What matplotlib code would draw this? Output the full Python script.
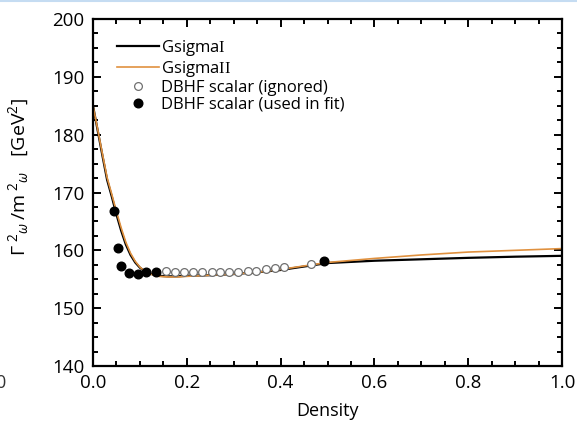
import numpy as np
import matplotlib
matplotlib.use('Agg')
import matplotlib.pyplot as plt
from matplotlib.ticker import MultipleLocator
from matplotlib.lines import Line2D

plt.rcParams['font.family'] = ['Open Sans', 'DejaVu Sans']
plt.rcParams['mathtext.fontset'] = 'custom'
plt.rcParams['mathtext.rm'] = 'Open Sans'
plt.rcParams['mathtext.it'] = 'Open Sans:italic'
plt.rcParams['mathtext.bf'] = 'Open Sans:bold'
plt.rcParams['mathtext.tt'] = 'Liberation Serif'

# model curves
x_g1 = [0, 0.01, 0.02, 0.03, 0.04, 0.05, 0.06, 0.07, 0.08, 0.09, 0.10, 0.11, 0.12,
        0.13, 0.14, 0.16, 0.18, 0.20, 0.25, 0.30, 0.35, 0.40, 0.45, 0.50, 0.6, 0.7,
        0.8, 0.9, 1.0]
y_g1 = [185.0, 180.7, 176.4, 172.2, 169.3, 166.2, 163.4, 161.0, 159.2, 157.9, 157.0,
        156.4, 156.0, 155.8, 155.6, 155.5, 155.5, 155.6, 155.7, 155.9, 156.2, 156.6,
        157.2, 157.8, 158.2, 158.45, 158.7, 158.9, 159.05]
x_g2 = [0, 0.01, 0.02, 0.03, 0.04, 0.05, 0.06, 0.07, 0.08, 0.09, 0.10, 0.11, 0.12,
        0.13, 0.14, 0.16, 0.18, 0.20, 0.25, 0.30, 0.35, 0.40, 0.45, 0.50, 0.6, 0.7,
        0.8, 0.9, 1.0]
y_g2 = [185.0, 180.9, 176.7, 172.6, 169.7, 166.7, 163.9, 161.4, 159.5, 158.1, 157.1,
        156.4, 156.0, 155.7, 155.5, 155.4, 155.4, 155.5, 155.7, 155.9, 156.2, 156.7,
        157.3, 157.9, 158.6, 159.2, 159.7, 160.0, 160.3]

# DBHF points
x_used = [0.045, 0.053, 0.059, 0.077, 0.095, 0.114, 0.134, 0.493]
y_used = [166.8, 160.4, 157.3, 156.1, 155.9, 156.3, 156.3, 158.1]
x_ign = [0.155, 0.175, 0.194, 0.214, 0.233, 0.253, 0.271, 0.291, 0.310, 0.330,
         0.348, 0.368, 0.388, 0.407, 0.464]
y_ign = [156.5, 156.3, 156.2, 156.2, 156.2, 156.2, 156.2, 156.2, 156.3, 156.4,
         156.5, 156.7, 156.9, 157.2, 157.7]

labels = [r'Gsigma$\mathtt{I}$', r'Gsigma$\mathtt{II}$',
          'DBHF scalar (ignored)', 'DBHF scalar (used in fit)']

fig = plt.figure(figsize=(5.77, 4.23), dpi=100)
ax = fig.add_axes([0.1612, 0.1348, 0.8128, 0.8202])

ax.plot(x_g1, y_g1, color='black', lw=1.6, label=labels[0])
ax.plot(x_g2, y_g2, color='#e0913f', lw=1.2, label=labels[1])
ax.plot(x_ign, y_ign, 'o', ms=5.6, mfc='white', mec='#707070', mew=0.9,
        label=labels[2])
ax.plot(x_used, y_used, 'o', ms=6.2, color='black', label=labels[3])

ax.set_xlim(0, 1.0)
ax.set_ylim(140, 200)
ax.xaxis.set_major_locator(MultipleLocator(0.2))
ax.xaxis.set_minor_locator(MultipleLocator(0.05))
ax.yaxis.set_major_locator(MultipleLocator(10))
ax.yaxis.set_minor_locator(MultipleLocator(2.5))
ax.xaxis.set_major_formatter(plt.FuncFormatter('{:.1f}'.format))
ax.yaxis.set_major_formatter(plt.FuncFormatter('{:.0f}'.format))

ax.tick_params(which='both', direction='in', top=True, right=True, width=1.4)
ax.tick_params(which='major', length=6, labelsize=13.5)
ax.tick_params(axis='x', which='major', pad=6)
ax.tick_params(axis='y', which='major', pad=6)
ax.tick_params(which='minor', length=3.5)
for s in ax.spines.values():
    s.set_linewidth(1.6)

ax.set_xlabel('Density', fontsize=13, labelpad=7)
ax.set_ylabel(r'$\Gamma^{\ 2}{}_{\omega}\,/\mathrm{m}^{\ 2}{}_{\omega}$   [GeV$^2$]',
              fontsize=14)
ax.yaxis.set_label_coords(-0.133, 0.545)

ax.legend(loc='upper left', bbox_to_anchor=(0.037, 0.965), frameon=False, fontsize=12,
          handlelength=2.5, handletextpad=0.15, labelspacing=0.06, borderaxespad=0)

# page artefacts of the original screenshot
fig.add_artist(Line2D([0, 1], [0.998, 0.998], color='#c5dcf2', lw=1.5))
fig.text(0.0, 0.095, '0', fontsize=13, ha='center', va='center', color='#333333')

fig.savefig('out.png', dpi=100)
